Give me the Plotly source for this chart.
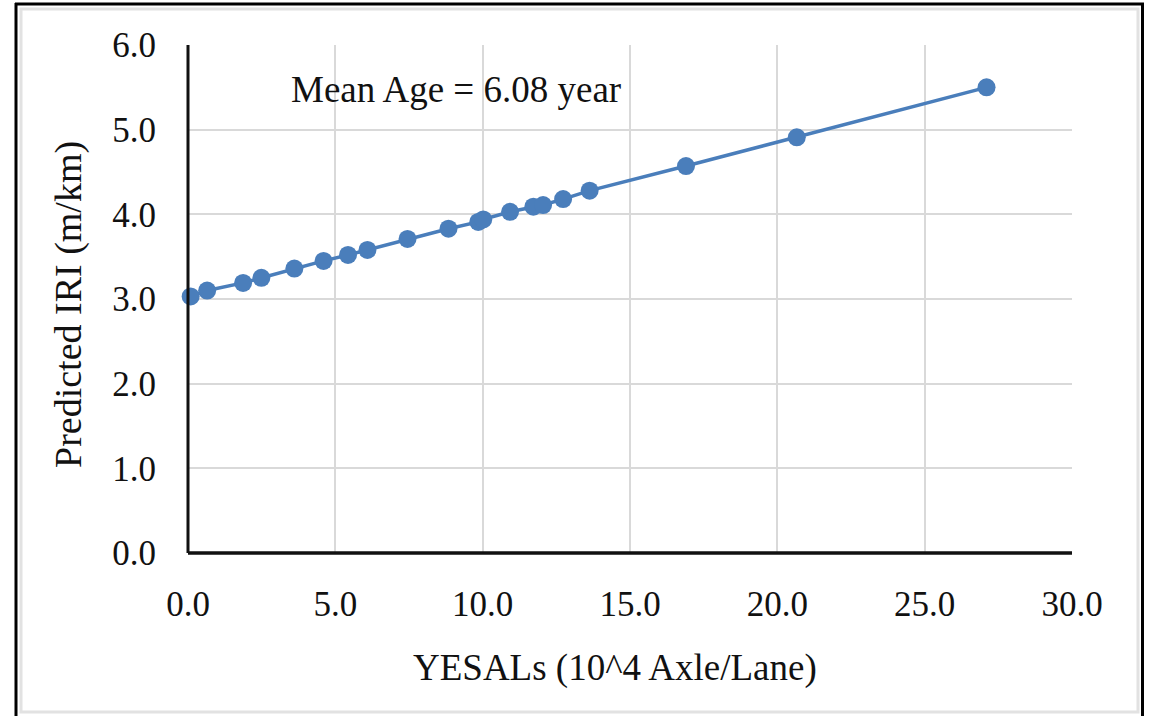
import plotly.graph_objects as go

# YESALs (10^4 axle/lane) and predicted IRI (m/km)
yesals = [0.09, 0.65, 1.87, 2.49, 3.61, 4.60, 5.43, 6.09, 7.45, 8.84, 9.85, 10.02,
          10.93, 11.72, 12.05, 12.73, 13.63, 16.90, 20.66, 27.10]
iri = [3.03, 3.10, 3.19, 3.25, 3.36, 3.45, 3.52, 3.58, 3.71, 3.83, 3.91, 3.94,
       4.03, 4.09, 4.11, 4.18, 4.28, 4.57, 4.91, 5.50]

x_ticks = [0, 5, 10, 15, 20, 25, 30]
y_ticks = [0, 1, 2, 3, 4, 5, 6]

W, H = 1153, 716
L, R, T, B = 188, 81, 45, 163
pw, ph = W - L - R, H - T - B


def px(v):
    return (v - L) / pw


def py(v):
    return (H - B - v) / ph


serif = "Liberation Serif, Times New Roman, serif"
blue = "#4a7ebb"

fig = go.Figure()
fig.add_trace(go.Scatter(
    x=yesals, y=iri, mode="lines+markers",
    line=dict(color=blue, width=3.5),
    marker=dict(color=blue, size=18),
    showlegend=False, cliponaxis=False,
))

axis_common = dict(
    showgrid=True, gridcolor="#d9d9d9", gridwidth=2,
    zeroline=False, ticks="outside", tickcolor="rgba(0,0,0,0)",
    tickfont=dict(family=serif, size=35, color="#111"),
    tickformat=".1f",
)

fig.update_xaxes(range=[0, 30], tickvals=x_ticks, ticklen=20, **axis_common)
fig.update_yaxes(range=[0, 6], tickvals=y_ticks, ticklen=24, **axis_common)

shapes = [
    # axis lines
    dict(type="line", xref="paper", yref="paper", x0=0, x1=1, y0=0, y1=0,
         line=dict(color="#111", width=3.5), layer="above"),
    dict(type="line", xref="paper", yref="paper", x0=0, x1=0, y0=0, y1=1,
         line=dict(color="#111", width=3), layer="above"),
    # outer light frame
    dict(type="rect", xref="paper", yref="paper",
         x0=px(21), x1=px(1138), y0=py(712), y1=py(9),
         line=dict(color="#e2e2e2", width=3), layer="below"),
    # black frame (left, top, right)
    dict(type="line", xref="paper", yref="paper", x0=px(16), x1=px(16),
         y0=py(716), y1=py(3), line=dict(color="#000", width=3)),
    dict(type="line", xref="paper", yref="paper", x0=px(15), x1=px(1144),
         y0=py(4), y1=py(4), line=dict(color="#000", width=3)),
    dict(type="line", xref="paper", yref="paper", x0=px(1142.5), x1=px(1142.5),
         y0=py(716), y1=py(3), line=dict(color="#000", width=3)),
]

annotations = [
    dict(text="Mean Age = 6.08 year", x=3.43, y=5.47, xref="x", yref="y",
         xanchor="left", yanchor="middle", showarrow=False,
         font=dict(family=serif, size=37, color="#111")),
    dict(text="YESALs (10^4 Axle/Lane)", x=px(615), y=py(668), xref="paper",
         yref="paper", xanchor="center", yanchor="middle", showarrow=False,
         font=dict(family=serif, size=37, color="#111")),
    dict(text="Predicted IRI (m/km)", x=px(68), y=py(305), xref="paper",
         yref="paper", xanchor="center", yanchor="middle", showarrow=False,
         textangle=-90, font=dict(family=serif, size=38, color="#111")),
]

fig.update_layout(
    width=W, height=H,
    margin=dict(l=L, r=R, t=T, b=B),
    paper_bgcolor="white", plot_bgcolor="white",
    shapes=shapes, annotations=annotations,
)

fig.write_html("out.html")
